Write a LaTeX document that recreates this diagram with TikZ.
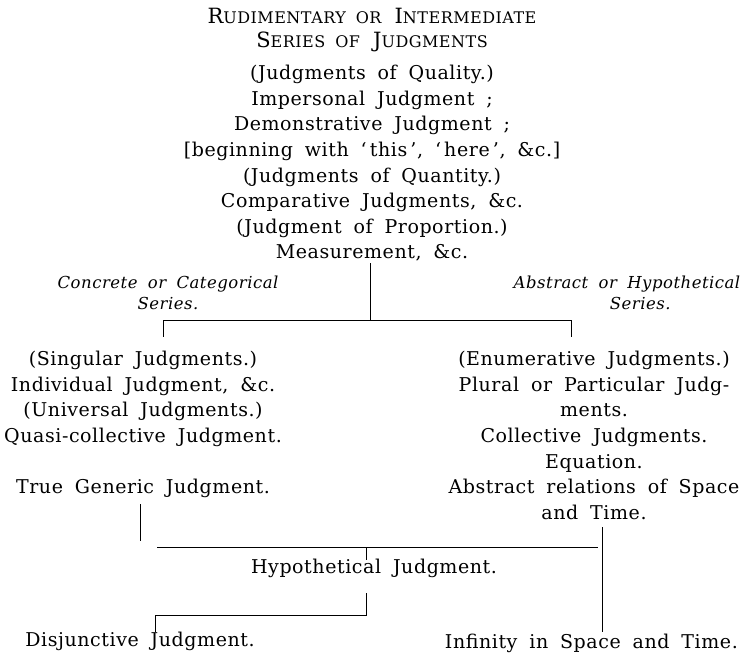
\documentclass[tikz,border=0pt]{standalone}
\usepackage{fontspec}
\setmainfont[WordSpace=1.8, LetterSpace=3]{DejaVu Serif}
\usepackage{tikz}
\usetikzlibrary{positioning}
\newcommand{\tinycaps}[1]{{\fontsize{16}{18}\selectfont #1}}

\begin{document}
\begin{tikzpicture}[x=1pt, y=-1pt,
  every node/.style={inner sep=0pt, align=center, font=\fontsize{19}{25.6}\selectfont},
  series/.style={font=\fontsize{16.5}{21}\selectfont\itshape},
  link/.style={draw=black, line width=0.7pt}]
\useasboundingbox (0,0) rectangle (743,660);
% heading and first series
\node [anchor=north, font=\fontsize{21}{24}\selectfont] (Title) at (372,8) {R\tinycaps{UDIMENTARY OR} I\tinycaps{NTERMEDIATE}\\S\tinycaps{ERIES OF} J\tinycaps{UDGMENTS}};
\node [anchor=north] (Quality) at (372,65) {(Judgments of Quality.)\\Impersonal Judgment ;\\Demonstrative Judgment ;\\{}[beginning with `\,this\,', `\,here\,', \&c.]\\(Judgments of Quantity.)\\Comparative Judgments, \&c.\\(Judgment of Proportion.)\\Measurement, \&c.};
\node [anchor=north, series] (Concrete) at (168,276) {Concrete or Categorical\\Series.};
\node [anchor=north, series] (Abstract) at (627,276) {Abstract or Hypothetical\\\hspace*{1.6em}Series.};
% the two columns
\node [anchor=north] (Singular) at (143,351) {(Singular Judgments.)\\Individual Judgment, \&c.\\(Universal Judgments.)\\Quasi-collective Judgment.\\[25.6pt]True Generic Judgment.};
\node [anchor=north] (Enumerative) at (594,351) {(Enumerative Judgments.)\\Plural or Particular Judg-\\ments.\\Collective Judgments.\\Equation.\\Abstract relations of Space\\and Time.};
% lower part
\node (Hypothetical) at (374,568) {Hypothetical Judgment.};
\node (Disjunctive) at (140,641) {Disjunctive Judgment.};
\node [anchor=east] (Infinity) at (738,643) {Infinity in Space and Time.};

\coordinate (SplitTop) at (370,263);
\coordinate (Split) at (370,320);
\coordinate (BarL) at (163,320);
\coordinate (BarR) at (571,320);
\coordinate (TickLEnd) at (163,337);
\coordinate (TickREnd) at (571,337);
\coordinate (GenericFoot) at (140,504);
\coordinate (GenericEnd) at (140,541);
\coordinate (JoinL) at (157,547);
\coordinate (JoinR) at (598,547);
\coordinate (SpaceFoot) at (602,527);
\coordinate (InfinityTop) at (602,632);
\coordinate (HypIn) at (366,547);
\coordinate (HypTop) at (366,560);
\coordinate (HypFoot) at (366,593);
\coordinate (HypCorner) at (366,615);
\coordinate (DisCorner) at (155,615);
\coordinate (DisTop) at (155,632);

\draw [link] (SplitTop) -- (Split);
\draw [link] (BarL) -- (BarR);
\draw [link] (BarL) -- (TickLEnd);
\draw [link] (BarR) -- (TickREnd);
\draw [link] (GenericFoot) -- (GenericEnd);
\draw [link] (JoinL) -- (JoinR);
\draw [link] (SpaceFoot) -- (InfinityTop);
\draw [link] (HypIn) -- (HypTop);
\draw [link] (HypFoot) -- (HypCorner) -- (DisCorner) -- (DisTop);
\end{tikzpicture}
\end{document}
